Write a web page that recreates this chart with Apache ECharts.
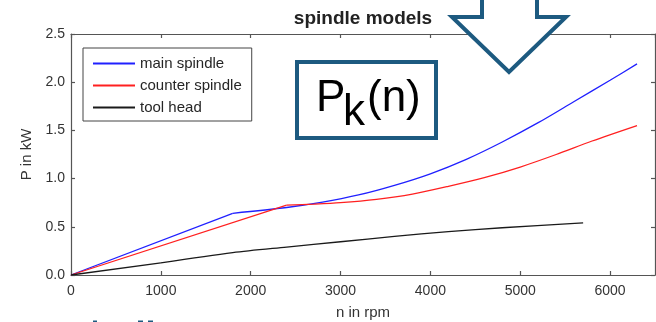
<!DOCTYPE html>
<html>
<head>
<meta charset="utf-8">
<script src="https://cdn.jsdelivr.net/npm/echarts@6/dist/echarts.min.js"></script>
<style>
  html, body { margin: 0; padding: 0; background: #fff; }
  #chart { width: 656px; height: 322px; }
</style>
</head>
<body>
<div id="chart"></div>
<script>
// spindle power curves
var seriesNames = ['main spindle', 'counter spindle', 'tool head'];

var mainSpindle = [
    [0, 0], [1800, 0.64], [2400, 0.70], [2800, 0.755], [3200, 0.83],
    [3600, 0.93], [4000, 1.05], [4400, 1.20], [4800, 1.38], [5200, 1.58],
    [5600, 1.80], [6000, 2.02], [6300, 2.19]
];
var counterSpindle = [
    [0, 0], [2400, 0.725], [2700, 0.735], [3000, 0.75], [3400, 0.785],
    [3800, 0.84], [4200, 0.92], [4600, 1.01], [5000, 1.12], [5400, 1.25],
    [5800, 1.39], [6300, 1.55]
];
var toolHead = [
    [0, 0], [1000, 0.125], [1800, 0.232], [2400, 0.29], [3000, 0.345],
    [3600, 0.40], [4200, 0.45], [4800, 0.49], [5700, 0.54]
];
// index where the straight start of each curve ends
var mainKnee = 1;
var counterKnee = 1;
var toolKnee = 1;

var xTicks = [0, 1000, 2000, 3000, 4000, 5000, 6000];
var yTicks = [0, 0.5, 1.0, 1.5, 2.0, 2.5];

var FONT = 'Liberation Sans';
var AXIS_COLOR = '#555';
var TEXT_COLOR = '#333';
var FRAME_BLUE = '#1d5a80';

var chart = echarts.init(document.getElementById('chart'));

function axisBase(pos, showLabel) {
    return {
        type: 'value',
        position: pos,
        axisLine: { show: true, onZero: false, lineStyle: { color: AXIS_COLOR, width: 1.2 } },
        axisTick: { show: true, inside: true, length: 4, lineStyle: { color: AXIS_COLOR, width: 1.2 } },
        splitLine: { show: false },
        axisLabel: { show: showLabel }
    };
}

var xBottom = axisBase('bottom', true);
xBottom.min = xTicks[0];
xBottom.max = 6500;
xBottom.interval = 1000;
xBottom.axisLabel = {
    show: true, color: TEXT_COLOR, fontSize: 14, fontFamily: FONT, margin: 9,
    showMaxLabel: false,
    formatter: function (v) { return xTicks.indexOf(v) >= 0 ? String(v) : ''; }
};
xBottom.name = 'n in rpm';
xBottom.nameLocation = 'middle';
xBottom.nameGap = 30;
xBottom.nameTextStyle = { color: TEXT_COLOR, fontSize: 15, fontFamily: FONT };

var xTop = axisBase('top', false);
xTop.min = 0; xTop.max = 6500; xTop.interval = 1000;

var yLeft = axisBase('left', true);
yLeft.min = yTicks[0];
yLeft.max = yTicks[yTicks.length - 1];
yLeft.interval = 0.5;
yLeft.axisLabel = {
    show: true, color: TEXT_COLOR, fontSize: 14, fontFamily: FONT, margin: 6,
    formatter: function (v) { return v.toFixed(1); }
};
yLeft.name = 'P in kW';
yLeft.nameLocation = 'middle';
yLeft.nameGap = 32;
yLeft.nameTextStyle = { color: TEXT_COLOR, fontSize: 15, fontFamily: FONT };

var yRight = axisBase('right', false);
yRight.min = 0; yRight.max = 2.5; yRight.interval = 0.5;

function lineSeries(name, data, color, smooth) {
    return {
        name: name,
        type: 'line',
        data: data,
        symbol: 'none',
        smooth: smooth,
        xAxisIndex: 0,
        yAxisIndex: 0,
        lineStyle: { color: color, width: 1.3 },
        itemStyle: { color: color },
        animation: false,
        z: 3
    };
}

var option = {
    animation: false,
    title: {
        text: 'spindle models',
        left: 363,
        textAlign: 'center',
        top: 9,
        padding: 0,
        textStyle: { fontSize: 19, fontWeight: 'bold', color: '#222', fontFamily: FONT }
    },
    grid: { left: 71, right: 1, top: 34, bottom: 47, outerBoundsMode: 'none', containLabel: false },
    legend: {
        data: seriesNames,
        orient: 'vertical',
        left: 83,
        top: 48,
        itemWidth: 42,
        itemHeight: 14,
        itemGap: 7,
        padding: [8, 10, 6, 9],
        borderColor: '#444',
        borderWidth: 1,
        backgroundColor: '#fff',
        itemStyle: { opacity: 0 },
        textStyle: { fontSize: 15, color: '#262626', fontFamily: FONT }
    },
    xAxis: [xBottom, xTop],
    yAxis: [yLeft, yRight],
    series: [
        lineSeries(seriesNames[0], mainSpindle.slice(0, mainKnee + 1), '#2020ff', false),
        lineSeries(seriesNames[0], mainSpindle.slice(mainKnee), '#2020ff', 0.3),
        lineSeries(seriesNames[1], counterSpindle.slice(0, counterKnee + 1), '#ff2020', false),
        lineSeries(seriesNames[1], counterSpindle.slice(counterKnee), '#ff2020', 0.3),
        lineSeries(seriesNames[2], toolHead.slice(0, toolKnee + 1), '#1a1a1a', false),
        lineSeries(seriesNames[2], toolHead.slice(toolKnee), '#1a1a1a', 0.3)
    ],
    graphic: [
        // arrow pointing down onto the plot
        {
            type: 'polygon',
            z: 100,
            shape: { points: [[482, -6], [482, 17], [452, 17], [509, 72], [566, 17], [537, 17], [537, -6]] },
            style: { fill: '#fff', stroke: FRAME_BLUE, lineWidth: 4 }
        },
        // P_k(n) box
        {
            type: 'rect',
            z: 100,
            shape: { x: 297, y: 62, width: 139, height: 76 },
            style: { fill: '#fff', stroke: FRAME_BLUE, lineWidth: 4 }
        },
        {
            type: 'text', z: 101, x: 316, y: 99,
            style: { text: 'P', fill: '#000', font: '44px "Liberation Sans"', verticalAlign: 'middle', align: 'left' }
        },
        {
            type: 'text', z: 101, x: 343, y: 113,
            style: { text: 'k', fill: '#000', font: '44px "Liberation Sans"', verticalAlign: 'middle', align: 'left' }
        },
        {
            type: 'text', z: 101, x: 367, y: 99,
            style: { text: '(n)', fill: '#000', font: '44px "Liberation Sans"', verticalAlign: 'middle', align: 'left' }
        },
        // cut-off marks at the bottom edge
        { type: 'rect', z: 100, shape: { x: 93, y: 320.5, width: 4, height: 1.5 }, style: { fill: FRAME_BLUE } },
        { type: 'rect', z: 100, shape: { x: 138, y: 320.5, width: 5, height: 1.5 }, style: { fill: FRAME_BLUE } },
        { type: 'rect', z: 100, shape: { x: 148, y: 320.5, width: 5, height: 1.5 }, style: { fill: FRAME_BLUE } }
    ]
};

chart.setOption(option);
</script>
</body>
</html>
